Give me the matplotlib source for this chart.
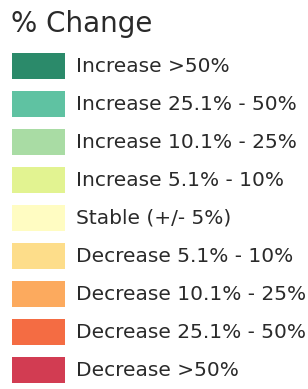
import matplotlib.pyplot as plt
from matplotlib.patches import Rectangle

title = "% Change"
labels = [
    "Increase >50%",
    "Increase 25.1% - 50%",
    "Increase 10.1% - 25%",
    "Increase 5.1% - 10%",
    "Stable (+/- 5%)",
    "Decrease 5.1% - 10%",
    "Decrease 10.1% - 25%",
    "Decrease 25.1% - 50%",
    "Decrease >50%",
]
colors = ["#2b8a6a", "#5fc2a2", "#a9dca4", "#e2f391", "#fffcc2",
          "#fddd8a", "#fcaa5e", "#f46c43", "#d23c52"]

W, H = 308, 389
fig = plt.figure(figsize=(W / 100, H / 100), dpi=100)
ax = fig.add_axes([0, 0, 1, 1])
ax.set_xlim(0, W)
ax.set_ylim(H, 0)
ax.set_axis_off()

ax.text(11, 24, title, fontsize=20, va="center", ha="left", color="#2a2a2a",
        family="DejaVu Sans")

top, step, sw, sh = 53, 38, 53, 26
for i, (lab, c) in enumerate(zip(labels, colors)):
    y = top + i * step
    ax.add_patch(Rectangle((12, y), sw, sh, facecolor=c, edgecolor="none"))
    ax.text(76, y + sh / 2, lab, fontsize=14.5, va="center", ha="left",
            color="#2a2a2a", family="DejaVu Sans")

fig.savefig("out.png", dpi=100)
